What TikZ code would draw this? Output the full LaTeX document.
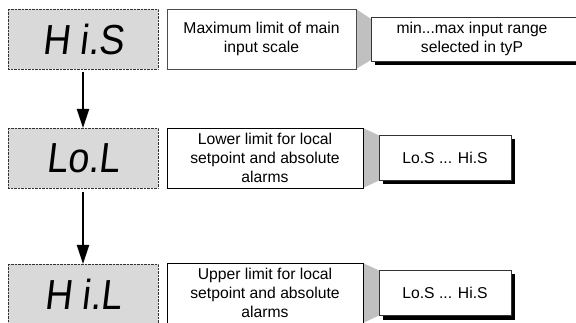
\documentclass[tikz,border=0pt]{standalone}
\usepackage{fontspec}
\setmainfont{Liberation Sans}
\newfontfamily\segfont[FakeSlant=0.12,FakeStretch=0.9]{Liberation Sans}
\usepackage{tikz}
\usetikzlibrary{arrows.meta,shadows,positioning,backgrounds}

\definecolor{lcdgray}{HTML}{D9D9D9}
\definecolor{wedgegray}{HTML}{C0C0C0}

\begin{document}
\begin{tikzpicture}[x=1pt,y=-1pt,inner sep=0pt,outer sep=0pt,
  font=\fontsize{15.7}{19}\selectfont]
\tikzstyle{display}=[draw=black!80,densely dotted,fill=lcdgray,minimum width=150pt,minimum height=60pt,font=\segfont\fontsize{42}{42}\selectfont]
\tikzstyle{descr}=[draw=black,line width=0.7pt,fill=white,minimum width=196pt,minimum height=60pt,align=center]
\tikzstyle{rangebox}=[draw=black!80,line width=0.7pt,fill=white,minimum width=132pt,minimum height=45pt,align=center,
  drop shadow={shadow xshift=4pt,shadow yshift=-4pt,opacity=1,fill=black}]
\tikzstyle{flow}=[-{Triangle[length=19pt,width=12pt]},line width=2pt]
\useasboundingbox (0,0) rectangle (576,323);

% parameter displays
\node[display] (HiS) at (83,39) {H i.S};
\node[display] (LoL) at (83,158) {Lo.L};
\node[display] (HiL) at (83,294) {H i.L};

% meaning of each parameter
\node[descr,minimum width=189pt,draw=black!70] (HiSd) [right=9pt of HiS] {Maximum limit of main\\input scale};
\node[descr] (LoLd) [right=9pt of LoL] {Lower limit for local\\setpoint and absolute\\alarms};
\node[descr,yshift=1pt] (HiLd) [right=9pt of HiL] {Upper limit for local\\setpoint and absolute\\alarms};

% allowed ranges
\node[rangebox,minimum width=206pt,minimum height=44pt] (HiSr) [right=15pt of HiSd] {\hspace*{-4pt}min...max input range\\\hspace*{-4pt}selected in tyP};
\node[rangebox] (LoLr) [right=16pt of LoLd] {Lo.S ... Hi.S};
\node[rangebox] (HiLr) [right=16pt of HiLd] {Lo.S ... Hi.S};

\begin{scope}[on background layer]
\fill[wedgegray] (HiSd.north east) -- ([yshift=-2pt]HiSr.north west) -- ([yshift=1pt]HiSr.south west) -- (HiSd.south east) -- cycle;
\fill[wedgegray] (LoLd.north east) -- (LoLr.north west) -- (LoLr.south west) -- (LoLd.south east) -- cycle;
\fill[wedgegray] (HiLd.north east) -- (HiLr.north west) -- (HiLr.south west) -- (HiLd.south east) -- cycle;
\end{scope}

\draw[flow,shorten <=3pt] (HiS) -- (LoL);
\draw[flow,shorten <=4pt] (LoL) -- (HiL);
\end{tikzpicture}
\end{document}
